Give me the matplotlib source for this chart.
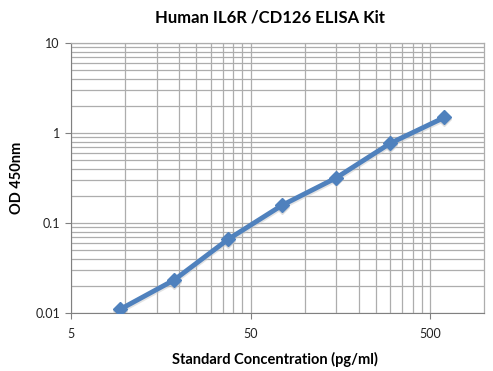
import numpy as np
import matplotlib
matplotlib.use("Agg")
import matplotlib.pyplot as plt
from matplotlib.ticker import FixedLocator, NullFormatter

# standard curve values
conc = [9.375, 18.75, 37.5, 75, 150, 300, 600]
od = [0.011, 0.0233, 0.066, 0.158, 0.318, 0.77, 1.49]

x_ticks = [5, 50, 500]
x_tick_labels = ["5", "50", "500"]
y_ticks = [0.01, 0.1, 1, 10]
y_tick_labels = ["0.01", "0.1", "1", "10"]

plt.rcParams['font.family'] = ['Lato', 'DejaVu Sans']

fig = plt.figure(figsize=(4.93, 3.71), dpi=100)
ax = fig.add_axes([0.144, 0.156, 0.838, 0.728])

ax.set_xscale('log')
ax.set_yscale('log')
ax.set_xlim(5, 1000)
ax.set_ylim(0.01, 10)

# excel style gridlines: x minors at multiples of 5, y minors at 2..9
x_minor = [m * 5 * 10 ** d for d in range(3) for m in range(2, 10)]
x_minor = [v for v in x_minor if v < 1000]
y_minor = [m * 10.0 ** d for d in range(-2, 1) for m in range(2, 10)]

ax.xaxis.set_major_locator(FixedLocator(x_ticks))
ax.set_xticklabels(x_tick_labels)
ax.xaxis.set_minor_locator(FixedLocator(x_minor))
ax.xaxis.set_minor_formatter(NullFormatter())
ax.yaxis.set_major_locator(FixedLocator(y_ticks))
ax.set_yticklabels(y_tick_labels)
ax.yaxis.set_minor_locator(FixedLocator(y_minor))
ax.yaxis.set_minor_formatter(NullFormatter())

ax.grid(True, which='both', color='#adadad', linewidth=0.9)
ax.set_axisbelow(True)
ax.tick_params(which='minor', length=0)
ax.tick_params(which='major', length=4, color='#808080', labelsize=9,
               labelcolor='#222222', pad=4)
ax.tick_params(axis='x', pad=7)

for side in ['top', 'right']:
    ax.spines[side].set_color('#adadad')
    ax.spines[side].set_linewidth(0.9)
for side in ['left', 'bottom']:
    ax.spines[side].set_color('#808080')

# soft shadow
ax.plot(conc, [v / 1.04 for v in od], color='#c8c8c8', linewidth=4, alpha=0.5,
        marker='D', markersize=7, zorder=2)
ax.plot(conc, od, color='#4f81bd', linewidth=3.5, marker='D', markersize=7,
        markerfacecolor='#4f81bd', markeredgecolor='#4f81bd', zorder=3)

fig.text(0.548, 0.953, "Human IL6R /CD126 ELISA Kit", ha='center', va='center',
         fontsize=12, fontweight='bold')
fig.text(0.558, 0.030, "Standard Concentration (pg/ml)", ha='center', va='center',
         fontsize=10.5, fontweight='bold')
ax.set_ylabel("OD 450nm", fontsize=10.5, fontweight='bold', labelpad=8)

fig.savefig("out.png", dpi=100)
